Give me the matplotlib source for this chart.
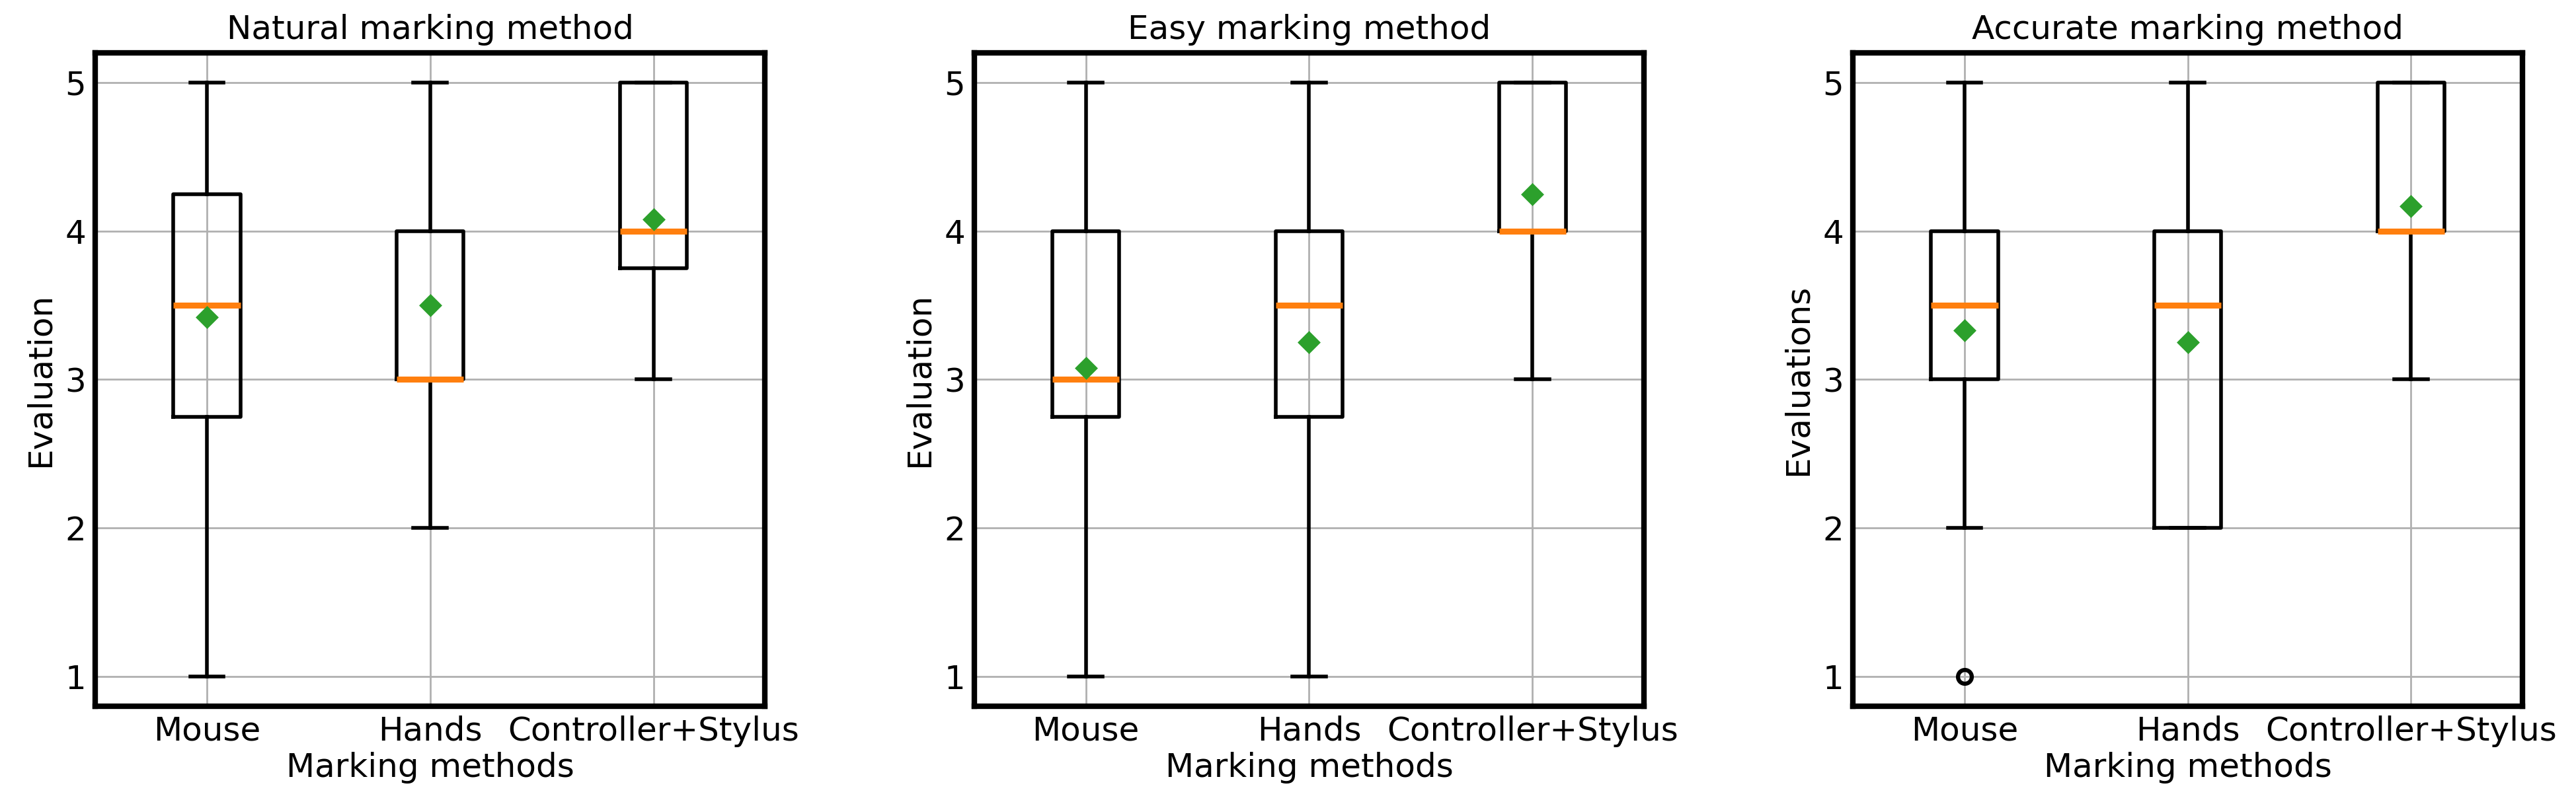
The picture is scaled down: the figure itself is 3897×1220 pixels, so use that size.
import matplotlib
matplotlib.use("Agg")
import matplotlib.pyplot as plt

# data
methods = ["Mouse", "Hands", "Controller+Stylus"]
titles = ["Natural marking method", "Easy marking method", "Accurate marking method"]
ylabels = ["Evaluation", "Evaluation", "Evaluations"]

natural_q1 = [2.75, 3.0, 3.75]
natural_med = [3.5, 3.0, 4.0]
natural_q3 = [4.25, 4.0, 5.0]
natural_lo = [1.0, 2.0, 3.0]
natural_hi = [5.0, 5.0, 5.0]
natural_mean = [3.42, 3.5, 4.08]
natural_fliers = [[], [], []]

easy_q1 = [2.75, 2.75, 4.0]
easy_med = [3.0, 3.5, 4.0]
easy_q3 = [4.0, 4.0, 5.0]
easy_lo = [1.0, 1.0, 3.0]
easy_hi = [5.0, 5.0, 5.0]
easy_mean = [3.08, 3.25, 4.25]
easy_fliers = [[], [], []]

accurate_q1 = [3.0, 2.0, 4.0]
accurate_med = [3.5, 3.5, 4.0]
accurate_q3 = [4.0, 4.0, 5.0]
accurate_lo = [2.0, 2.0, 3.0]
accurate_hi = [5.0, 5.0, 5.0]
accurate_mean = [3.33, 3.25, 4.17]
accurate_fliers = [[1.0], [], []]

panels = [
    (natural_q1, natural_med, natural_q3, natural_lo, natural_hi, natural_mean, natural_fliers),
    (easy_q1, easy_med, easy_q3, easy_lo, easy_hi, easy_mean, easy_fliers),
    (accurate_q1, accurate_med, accurate_q3, accurate_lo, accurate_hi, accurate_mean, accurate_fliers),
]

FONT = 14.4
BOX_LW = 1.6
plt.rcParams["font.size"] = FONT

fig = plt.figure(figsize=(15.588, 4.88), dpi=250)
lefts = [0.0370, 0.3782, 0.7193]

for i, (q1, med, q3, lo, hi, mean, fl) in enumerate(panels):
    ax = fig.add_axes([lefts[i], 0.1238, 0.2600, 0.8106])
    stats = []
    for j in range(len(methods)):
        stats.append(dict(q1=q1[j], med=med[j], q3=q3[j], whislo=lo[j], whishi=hi[j],
                          mean=mean[j], fliers=fl[j], label=methods[j]))
    ax.bxp(stats, showmeans=True, widths=0.3,
           boxprops=dict(linewidth=BOX_LW, color="k"),
           whiskerprops=dict(linewidth=BOX_LW, color="k"),
           capprops=dict(linewidth=BOX_LW, color="k"),
           medianprops=dict(linewidth=2.6, color="#ff7f0e"),
           flierprops=dict(marker="o", markerfacecolor="none", markeredgecolor="k",
                           markeredgewidth=1.8, markersize=6),
           meanprops=dict(marker="D", markerfacecolor="#2ca02c", markeredgecolor="#2ca02c",
                          markersize=6))
    ax.set_ylim(0.8, 5.2)
    ax.set_xlim(0.5, 3.5)
    ax.set_yticks([1, 2, 3, 4, 5])
    ax.grid(True)
    ax.set_axisbelow(True)
    ax.tick_params(length=0, pad=4, labelsize=FONT)
    for s in ax.spines.values():
        s.set_linewidth(2.4)
    ax.set_title(titles[i], fontsize=FONT)
    ax.set_xlabel("Marking methods", fontsize=FONT, labelpad=2)
    ax.set_ylabel(ylabels[i], fontsize=FONT)

fig.savefig("out.png", dpi=250)
